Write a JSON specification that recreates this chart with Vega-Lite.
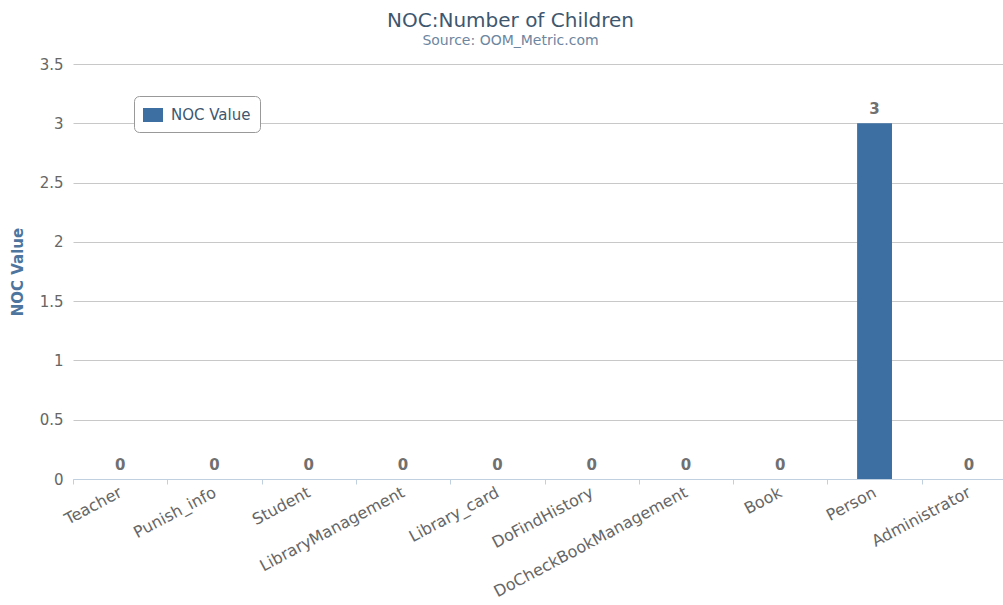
{
  "$schema": "https://vega.github.io/schema/vega-lite/v6.json",
  "autosize": {"type": "none"},
  "padding": {"left": 73, "top": 64, "right": 0, "bottom": 126},
  "width": 943,
  "height": 415,
  "background": "white",
  "title": {
    "text": "NOC:Number of Children",
    "subtitle": "Source: OOM_Metric.com",
    "anchor": "middle",
    "frame": "group",
    "dx": -34,
    "font": "DejaVu Sans",
    "fontSize": 20,
    "fontWeight": "normal",
    "color": "#3E576F",
    "subtitleFont": "DejaVu Sans",
    "subtitleFontSize": 14,
    "subtitleColor": "#6D869F",
    "subtitlePadding": 3,
    "offset": 9
  },
  "config": {
    "view": {"stroke": null},
    "font": "DejaVu Sans"
  },
  "data": {
    "values": [
      {"name": "Teacher", "value": 0},
      {"name": "Punish_info", "value": 0},
      {"name": "Student", "value": 0},
      {"name": "LibraryManagement", "value": 0},
      {"name": "Library_card", "value": 0},
      {"name": "DoFindHistory", "value": 0},
      {"name": "DoCheckBookManagement", "value": 0},
      {"name": "Book", "value": 0},
      {"name": "Person", "value": 3},
      {"name": "Administrator", "value": 0}
    ]
  },
  "encoding": {
    "x": {
      "field": "name",
      "type": "nominal",
      "sort": null,
      "scale": {"paddingInner": 0, "paddingOuter": 0},
      "axis": {
        "title": null,
        "labelAngle": -28,
        "labelAlign": "right",
        "labelBaseline": "middle",
        "labelPadding": 7,
        "labelFont": "DejaVu Sans",
        "labelFontSize": 16,
        "labelColor": "#666666",
        "tickBand": "extent",
        "ticks": true,
        "tickSize": 5,
        "tickColor": "#C0D0E0",
        "domainColor": "#C0D0E0",
        "grid": false,
        "labelOverlap": false,
        "labelLimit": 300
      }
    },
    "y": {
      "field": "value",
      "type": "quantitative",
      "scale": {"domain": [0, 3.5], "nice": false},
      "axis": {
        "title": "NOC Value",
        "titleFont": "DejaVu Sans",
        "titleFontSize": 15,
        "titleFontWeight": "bold",
        "titleColor": "#4D759E",
        "titlePadding": 14,
        "values": [0, 0.5, 1, 1.5, 2, 2.5, 3, 3.5],
        "format": "~g",
        "labelFont": "DejaVu Sans",
        "labelFontSize": 15,
        "labelColor": "#666666",
        "labelPadding": 10,
        "ticks": false,
        "domain": false,
        "grid": true,
        "gridColor": "#C8C8C8",
        "gridOpacity": 1
      }
    }
  },
  "layer": [
    {
      "mark": {"type": "bar", "width": {"band": 0.37}},
      "encoding": {
        "color": {
          "datum": "NOC Value",
          "type": "nominal",
          "scale": {"range": ["#3E6FA3"]},
          "legend": {
            "title": null,
            "orient": "none",
            "legendX": 61,
            "legendY": 32,
            "direction": "vertical",
            "strokeColor": "#999999",
            "fillColor": "white",
            "cornerRadius": 5,
            "padding": 9,
            "symbolType": "M-1,-0.7H1V0.7H-1Z",
            "symbolSize": 400,
            "symbolStrokeWidth": 0,
            "symbolOpacity": 1,
            "labelFont": "DejaVu Sans",
            "labelFontSize": 15,
            "labelColor": "#3E576F",
            "labelOffset": 8
          }
        }
      }
    },
    {
      "mark": {
        "type": "text",
        "baseline": "bottom",
        "dy": -6,
        "font": "DejaVu Sans",
        "fontSize": 15,
        "fontWeight": "bold",
        "color": "#707070"
      },
      "encoding": {
        "text": {"field": "value", "type": "quantitative"}
      }
    }
  ]
}
